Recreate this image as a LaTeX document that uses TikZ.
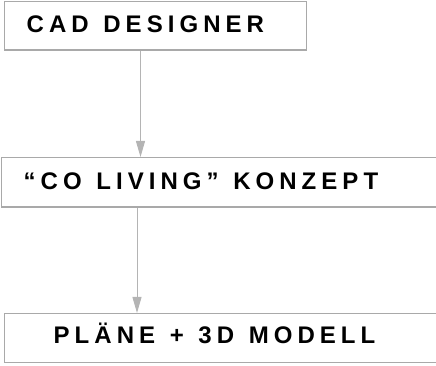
\documentclass[tikz,border=0pt]{standalone}
\usepackage{fontspec}
\setmainfont{Liberation Sans}
\usetikzlibrary{arrows.meta}
\newfontfamily\boxfont[LetterSpace=21,WordSpace=1.25]{Liberation Sans Bold}
\definecolor{boxgray}{HTML}{A9A9A9}
\definecolor{arrgray}{HTML}{B4B4B4}
\begin{document}
\begin{tikzpicture}[x=1pt,y=1pt,
  boxnode/.style={draw=boxgray,line width=1.4pt,rectangle,inner sep=0pt},
  lbl/.style={anchor=base west,inner sep=0pt,font=\boxfont\fontsize{24}{27}\selectfont,text=black},
  flow/.style={draw=arrgray,line width=1pt,-{Triangle[width=9pt,length=16pt]}}]
\useasboundingbox (0,0) rectangle (436,366);
% boxes (image y flipped: Y = 366 - y)
\node[boxnode,minimum width=302pt,minimum height=48.5pt,anchor=north west] (b1) at (4,365) {};
\node[boxnode,minimum width=450pt,minimum height=49.5pt,anchor=north west] (b2) at (1,209) {};
\node[boxnode,minimum width=450pt,minimum height=49pt,anchor=north west] (b3) at (3.5,53) {};
% labels
\node[lbl] (t1) at (26.5,333) {CAD DESIGNER};
\node[lbl] (t2) at (23.5,176) {“CO LIVING” KONZEPT};
\node[lbl] (t3) at (53.5,22) {PLÄNE + 3D MODELL};
% connectors
\coordinate (a1s) at (140.5,316.5);
\coordinate (a1e) at (140.5,209);
\coordinate (a2s) at (137,159.5);
\coordinate (a2e) at (137,53);
\draw[flow] (b1.south -| a1s) -- (b2.north -| a1e);
\draw[flow] (b2.south -| a2s) -- (b3.north -| a2e);
\end{tikzpicture}
\end{document}
